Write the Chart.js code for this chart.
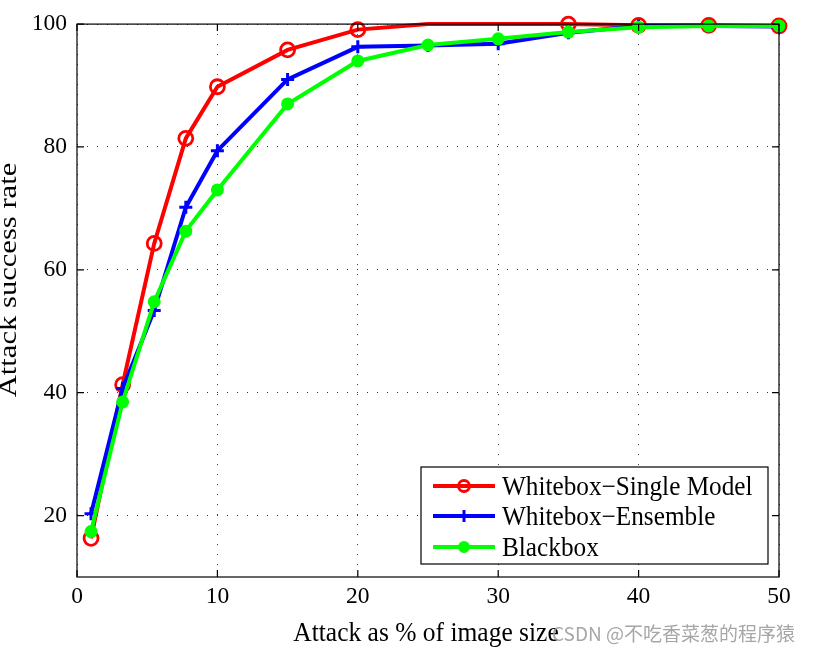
<!DOCTYPE html>
<html>
<head>
<meta charset="utf-8">
<script src="https://cdn.jsdelivr.net/npm/chart.js@4/dist/chart.umd.min.js"></script>
<style>
  html, body { margin: 0; padding: 0; background: #fff; }
  #wrap { width: 817px; height: 651px; }
</style>
</head>
<body>
<div id="wrap"><canvas id="myChart" width="817" height="651"></canvas></div>
<script>
// values
var sizes = [1, 3.25, 5.5, 7.75, 10, 15, 20, 25, 30, 35, 40, 45, 50];
var whiteboxSingle = [16.3, 41.3, 64.3, 81.4, 89.8, 95.8, 99.1, 100, 100, 100, 99.8, 99.8, 99.7];
var whiteboxEnsemble = [20.3, 40.7, 53.4, 70.2, 79.4, 91.0, 96.3, 96.5, 96.8, 98.6, 99.7, 99.7, 99.6];
var blackbox = [17.4, 38.5, 54.8, 66.3, 73.0, 87.0, 94.0, 96.6, 97.6, 98.7, 99.5, 99.7, 99.7];
var xTicks = [0, 10, 20, 30, 40, 50];
var yTicks = [20, 40, 60, 80, 100];
var seriesNames = ["Whitebox\u2212Single Model", "Whitebox\u2212Ensemble", "Blackbox"];
var xTitle = "Attack as % of image size";
var yTitle = "Attack success rate";

var serif = "'Liberation Serif', 'Times New Roman', serif";

function pts(ys) {
    return sizes.map(function (x, i) { return { x: x, y: ys[i] }; });
}

// red markers at 25 and 30 sit above the frame and are not shown
var redRadius = sizes.map(function (x) { return (x === 25 || x === 30) ? 0 : 7; });

// frame, inward ticks, legend box and the axis titles
var matlabLook = {
    id: "matlabLook",
    afterDatasetsDraw: function (chart) {
        var c = chart.ctx, a = chart.chartArea;
        var xs = chart.scales.x, ys = chart.scales.y;
        c.save();
        c.strokeStyle = "#000";
        c.lineWidth = 1.2;
        c.strokeRect(a.left, a.top, a.right - a.left, a.bottom - a.top);
        c.beginPath();
        xTicks.forEach(function (v) {
            var px = xs.getPixelForValue(v);
            c.moveTo(px, a.bottom); c.lineTo(px, a.bottom - 7);
            c.moveTo(px, a.top); c.lineTo(px, a.top + 7);
        });
        yTicks.forEach(function (v) {
            var py = ys.getPixelForValue(v);
            c.moveTo(a.left, py); c.lineTo(a.left + 7, py);
            c.moveTo(a.right, py); c.lineTo(a.right - 7, py);
        });
        c.stroke();

        // legend
        var lx = 421, ly = 467, lw = 347, lh = 97;
        c.fillStyle = "#fff";
        c.fillRect(lx, ly, lw, lh);
        c.lineWidth = 1.2;
        c.strokeRect(lx, ly, lw, lh);
        var rows = [486, 516, 547];
        chart.data.datasets.forEach(function (ds, i) {
            var y = rows[i];
            c.strokeStyle = ds.borderColor;
            c.lineWidth = ds.borderWidth;
            c.beginPath();
            c.moveTo(433, y); c.lineTo(495, y);
            c.stroke();
            c.strokeStyle = ds.borderColor;
            c.fillStyle = ds.pointBackgroundColor;
            c.lineWidth = ds.pointBorderWidth;
            Chart.helpers.drawPoint(c, {
                pointStyle: ds.pointStyle,
                radius: ds.legendRadius,
                borderWidth: ds.pointBorderWidth
            }, 464, y);
            c.save();
            c.translate(502, y + 9);
            c.scale(1.01, 1.08);
            c.fillStyle = "#000";
            c.font = "25px " + serif;
            c.textAlign = "left";
            c.textBaseline = "alphabetic";
            c.fillText(ds.label, 0, 0);
            c.restore();
        });
        c.restore();
    },
    afterDraw: function (chart) {
        var c = chart.ctx, a = chart.chartArea;
        c.save();
        c.translate((a.left + a.right) / 2 - 2, 641);
        c.scale(1, 1.08);
        c.fillStyle = "#000";
        c.font = "25.5px " + serif;
        c.textAlign = "center";
        c.textBaseline = "alphabetic";
        c.fillText(xTitle, 0, 0);
        c.restore();

        c.save();
        c.translate(16, 280);
        c.rotate(-Math.PI / 2);
        c.scale(1.2, 1);
        c.fillStyle = "#000";
        c.font = "25.5px " + serif;
        c.textAlign = "center";
        c.textBaseline = "alphabetic";
        c.fillText(yTitle, 0, 0);
        c.restore();

        c.save();
        c.fillStyle = "rgba(150,150,150,0.85)";
        c.font = "19px 'Noto Sans CJK SC', 'Noto Sans', sans-serif";
        c.textAlign = "left";
        c.textBaseline = "alphabetic";
        c.fillText("CSDN @\u4e0d\u5403\u9999\u83dc\u8471\u7684\u7a0b\u5e8f\u733f", 552, 641);
        c.restore();
    }
};

window.onload = function () {
    var ctx = document.getElementById("myChart").getContext("2d");
    var myChart = new Chart(ctx, {
        type: "line",
        data: {
            datasets: [{
                label: seriesNames[0],
                data: pts(whiteboxSingle),
                borderColor: "#ff0000",
                borderWidth: 4,
                pointStyle: "circle",
                pointRadius: redRadius,
                legendRadius: 5.5,
                pointBorderWidth: 2.8,
                pointBackgroundColor: "rgba(255,255,255,0)",
                pointBorderColor: "#ff0000",
                order: 2
            },
            {
                label: seriesNames[1],
                data: pts(whiteboxEnsemble),
                borderColor: "#0000ff",
                borderWidth: 4,
                pointStyle: "cross",
                pointRadius: 6.5,
                legendRadius: 6,
                pointBorderWidth: 3,
                pointBackgroundColor: "#0000ff",
                pointBorderColor: "#0000ff",
                order: 1
            },
            {
                label: seriesNames[2],
                data: pts(blackbox),
                borderColor: "#00ff00",
                borderWidth: 4,
                pointStyle: "circle",
                pointRadius: 5.5,
                legendRadius: 5,
                pointBorderWidth: 2,
                pointBackgroundColor: "#00ff00",
                pointBorderColor: "#00ff00",
                order: 0
            }]
        },
        options: {
            responsive: false,
            animation: false,
            devicePixelRatio: 1,
            clip: false,
            layout: { padding: { left: 0, top: 21, right: 38, bottom: 0 } },
            plugins: {
                legend: { display: false },
                tooltip: { enabled: false }
            },
            elements: { line: { tension: 0 } },
            scales: {
                x: {
                    type: "linear",
                    min: 0,
                    max: 50,
                    afterBuildTicks: function (s) { s.ticks = xTicks.map(function (v) { return { value: v }; }); },
                    afterFit: function (s) { s.height = 74; },
                    ticks: { color: "#000", padding: 6, maxRotation: 0, font: { family: serif, size: 23.5 } },
                    grid: { color: "#333", drawTicks: false, lineWidth: 1 },
                    border: { display: false, dash: [1, 9] }
                },
                y: {
                    min: 10,
                    max: 100,
                    afterBuildTicks: function (s) { s.ticks = yTicks.map(function (v) { return { value: v }; }); },
                    afterFit: function (s) { s.width = 77; },
                    ticks: { color: "#000", padding: 10, font: { family: serif, size: 23.5 } },
                    grid: { color: "#333", drawTicks: false, lineWidth: 1 },
                    border: { display: false, dash: [1, 9] }
                }
            }
        },
        plugins: [matlabLook]
    });
};
</script>
</body>
</html>
